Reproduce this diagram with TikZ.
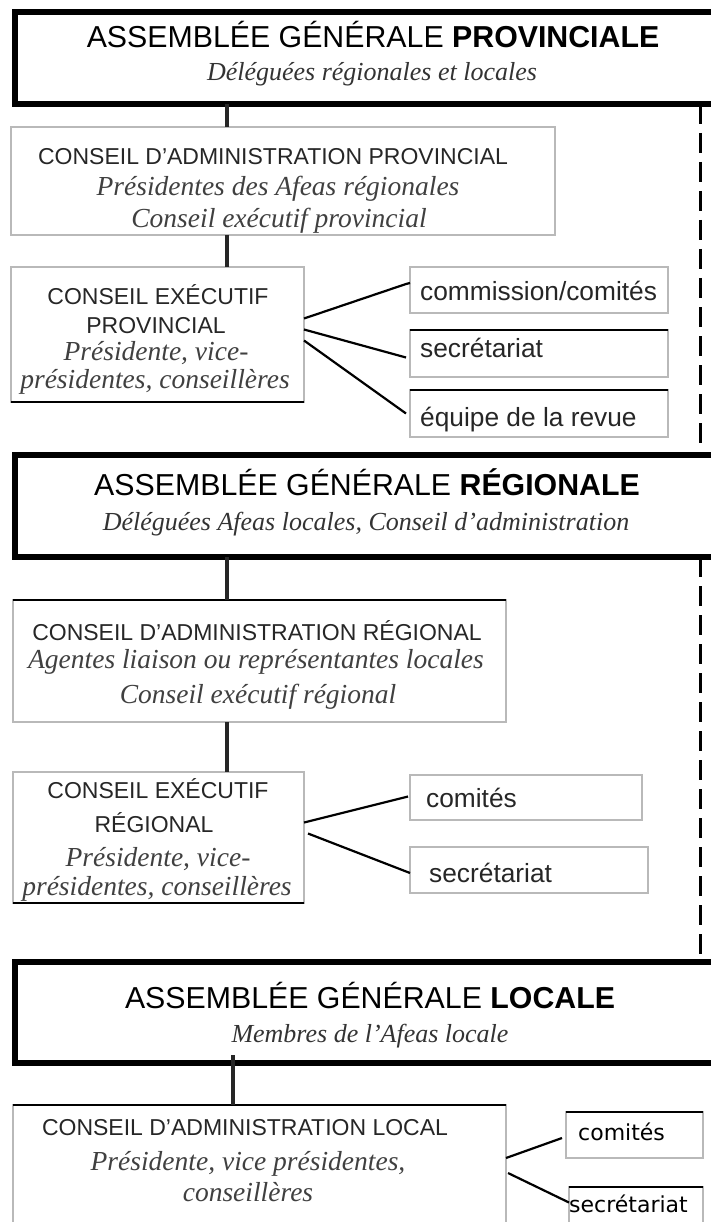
\documentclass[tikz,border=0pt]{standalone}
\usepackage{fontspec}
\setmainfont{Liberation Serif}
\setsansfont{Liberation Sans}
\newfontfamily\dejavu{DejaVu Sans}
\usetikzlibrary{calc,fit}
\begin{document}
\begin{tikzpicture}[x=1pt,y=-1pt,
  agbox/.style={draw=black, line width=5.5pt, inner sep=0pt, outer sep=0pt},
  inbox/.style={draw=gray!55, line width=1.2pt, inner sep=0pt, outer sep=0pt},
  smbox/.style={draw=gray!55, line width=1.2pt, inner sep=0pt, outer sep=0pt},
  darkedge/.style={draw=black, line width=2pt},
  mainlink/.style={draw=black!85, line width=4pt},
  sublink/.style={draw=black, line width=2.2pt},
  dashlink/.style={draw=black, line width=3pt, dash pattern=on 20pt off 9pt},
  agtitle/.style={font=\sffamily\fontsize{30.3}{36}\selectfont, inner sep=0pt, anchor=base},
  agsub/.style={font=\itshape\fontsize{26}{30}\selectfont, text=black!80, inner sep=0pt, anchor=base},
  intitle/.style={font=\sffamily\fontsize{23}{28}\selectfont, text=black!85, inner sep=0pt, anchor=base},
  insub/.style={font=\itshape\fontsize{27.5}{30}\selectfont, text=black!75, inner sep=0pt, anchor=base},
  smtext/.style={font=\sffamily\fontsize{26.3}{30}\selectfont, text=black!85, inner sep=0pt, anchor=base west},
  loctext/.style={font=\dejavu\fontsize{22}{26}\selectfont, inner sep=0pt, anchor=base west}
]
\useasboundingbox (0,0) rectangle (711,1222);
\coordinate (col) at (227,0);
\coordinate (colL) at (233,0);
\coordinate (dashx) at (700,0);

% ---------- provincial ----------
\node[agbox, fit={(15,12) (732,104)}] (agp) {};
\node[agtitle] (agpt) at (373,48) {ASSEMBLÉE GÉNÉRALE \textbf{PROVINCIALE}};
\node[agsub] (agps) at (372,81) {Déléguées régionales et locales};

\node[inbox, fit={(11,127) (555,235)}] (cap) {};
\node[intitle] (capt) at (273,165) {CONSEIL D'ADMINISTRATION PROVINCIAL};
\node[insub] (caps1) at (278,196) {Présidentes des Afeas régionales};
\node[insub] (caps2) at (279,228) {Conseil exécutif provincial};

\node[inbox, fit={(11,267) (304,402)}] (cep) {};
\draw[darkedge] (cep.south west) -- (cep.south east);
\node[intitle] (cept1) at (158,305) {CONSEIL EXÉCUTIF};
\node[intitle] (cept2) at (156,333) {PROVINCIAL};
\node[insub] (ceps1) at (156,360) {Présidente, vice-};
\node[insub] (ceps2) at (155,388) {présidentes, conseillères};

\node[smbox, fit={(410,267) (668,313)}] (comP) {};
\node[smtext] (comPt) at (420,301) {commission/comités};
\node[smbox, fit={(410,330) (668,377)}] (secP) {};
\draw[darkedge] (secP.north west) -- (secP.north east);
\node[smtext] (secPt) at (420,357) {secrétariat};
\node[smbox, fit={(410,390) (668,437)}] (eqP) {};
\draw[darkedge] (eqP.north west) -- (eqP.north east);
\node[smtext] (eqPt) at (420,426) {équipe de la revue};

\draw[mainlink] (agp.south -| col) -- (cap.north -| col);
\draw[mainlink] (cap.south -| col) -- (cep.north -| col);
\draw[sublink] ($(cep.east)+(0,-16)$) -- ($(comP.west)+(-4,-6)$) -- ($(comP.west)+(0,-7)$);
\draw[sublink] ($(cep.east)+(0,-5)$) -- ($(secP.west)+(-4,4)$);
\draw[sublink] ($(cep.east)+(0,6)$) -- ($(eqP.west)+(-4,0)$);

% ---------- regional ----------
\node[agbox, fit={(15,455) (732,557)}] (agr) {};
\node[agtitle] (agrt) at (367,495) {ASSEMBLÉE GÉNÉRALE \textbf{RÉGIONALE}};
\node[agsub] (agrs) at (366,530) {Déléguées Afeas locales, Conseil d'administration};

\node[inbox, fit={(13,600) (506,722)}] (car) {};
\draw[darkedge] (car.north west) -- (car.north east);
\node[intitle] (cart) at (257,640) {CONSEIL D'ADMINISTRATION RÉGIONAL};
\node[insub] (cars1) at (256,668) {Agentes liaison ou représentantes locales};
\node[insub] (cars2) at (258,703) {Conseil exécutif régional};

\node[inbox, fit={(13,772) (304,903)}] (cer) {};
\draw[darkedge] (cer.south west) -- (cer.south east);
\node[intitle] (cert1) at (158,798) {CONSEIL EXÉCUTIF};
\node[intitle] (cert2) at (154,832) {RÉGIONAL};
\node[insub] (cers1) at (158,866) {Présidente, vice-};
\node[insub] (cers2) at (157,895) {présidentes, conseillères};

\node[smbox, fit={(410,775) (642,820)}] (comR) {};
\node[smtext] (comRt) at (426,807) {comités};
\node[smbox, fit={(410,847) (648,893)}] (secR) {};
\node[smtext] (secRt) at (429,882) {secrétariat};

\draw[mainlink] (agr.south -| col) -- (car.north -| col);
\draw[mainlink] (car.south -| col) -- (cer.north -| col);
\draw[sublink] ($(cer.east)+(0,-15)$) -- ($(comR.west)+(-2,-1)$);
\draw[sublink] ($(cer.east)+(4,-4)$) -- ($(secR.west)+(0,3)$);

% ---------- local ----------
\node[agbox, fit={(15,962) (732,1063)}] (agl) {};
\node[agtitle] (aglt) at (370,1008) {ASSEMBLÉE GÉNÉRALE \textbf{LOCALE}};
\node[agsub] (agls) at (370,1042) {Membres de l'Afeas locale};

\node[inbox, fit={(13,1105) (506,1245)}] (cal) {};
\draw[darkedge] (cal.north west) -- (cal.north east);
\node[intitle] (calt) at (245,1135) {CONSEIL D'ADMINISTRATION LOCAL};
\node[insub] (cals1) at (248,1170) {Présidente, vice présidentes,};
\node[insub] (cals2) at (248,1201) {conseillères};

\node[smbox, fit={(566,1112) (703,1158)}] (comL) {};
\draw[darkedge] (comL.north west) -- (comL.north east);
\node[loctext] (comLt) at (578,1140) {comités};
\node[smbox, fit={(569,1187) (703,1250)}] (secL) {};
\draw[darkedge] (secL.north west) -- (secL.north east);
\node[loctext] (secLt) at (569,1212) {secrétariat};

\draw[mainlink] ($(agl.south -| colL)+(0,-8)$) -- (cal.north -| colL);
\draw[sublink] ($(cal.east)+(0,-17)$) -- ($(comL.west)+(-4,3)$);
\draw[sublink] ($(cal.east)+(2,-2)$) -- ($(secL.west)+(0,-16)$);

% ---------- dashed right-hand link ----------
\draw[dashlink] (agp.south -| dashx) -- (agr.north -| dashx);
\draw[dashlink] (agr.south -| dashx) -- (agl.north -| dashx);
\end{tikzpicture}
\end{document}
